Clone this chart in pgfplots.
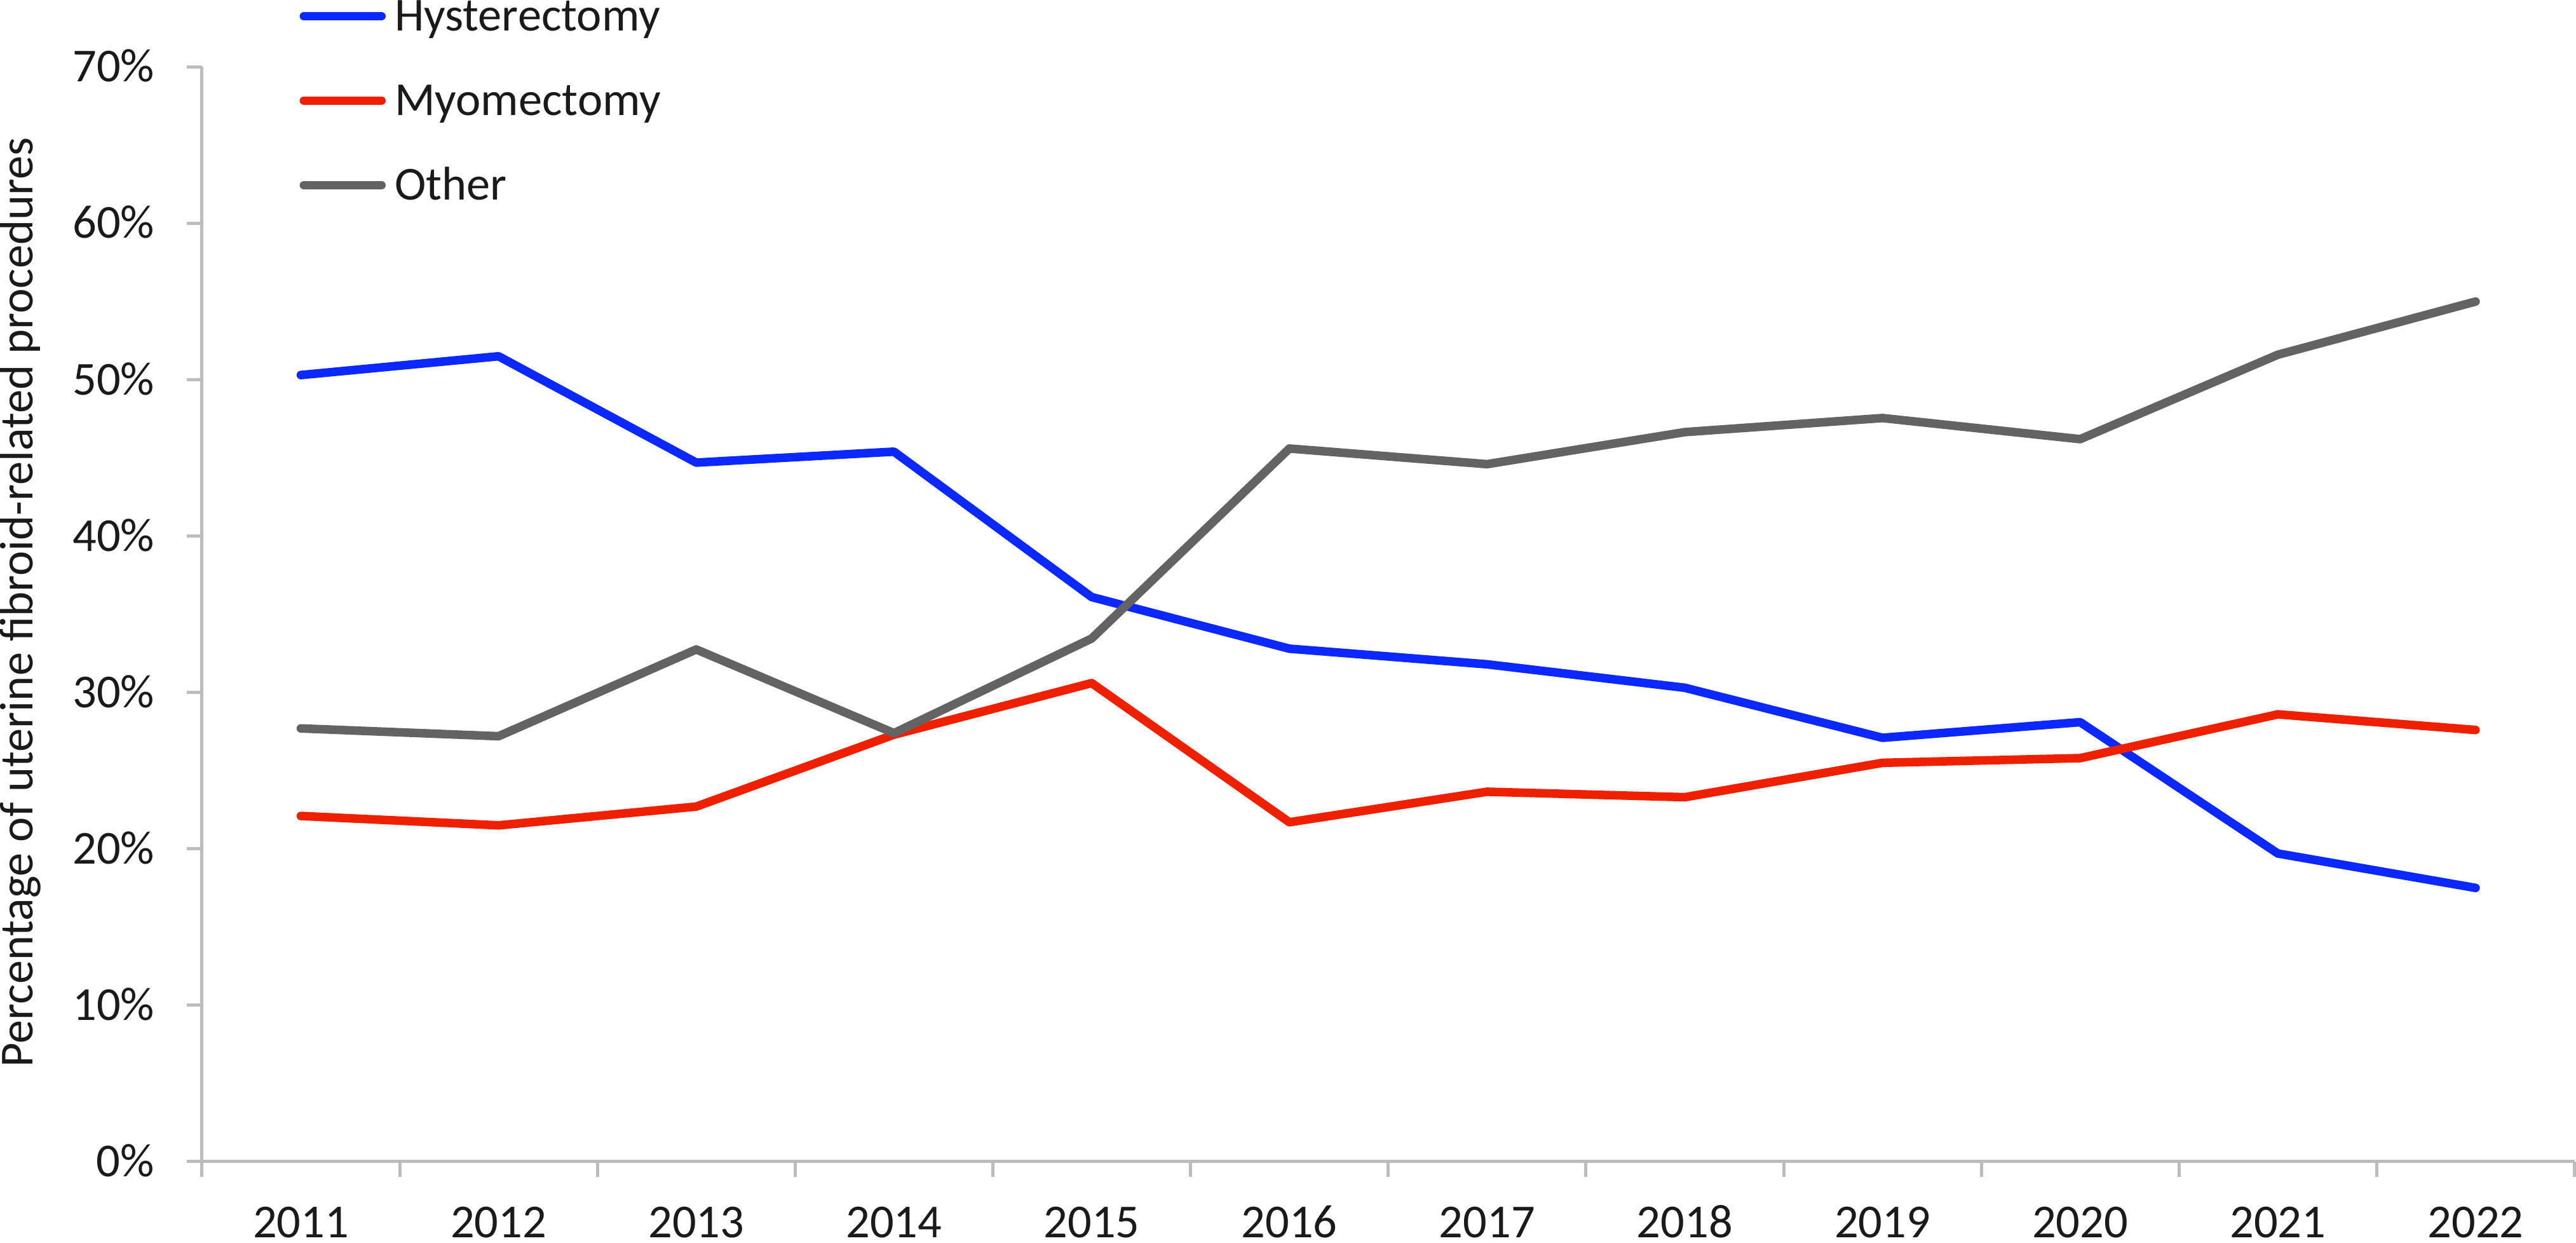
\documentclass[border=0pt]{standalone}
\usepackage{fontspec}
\setmainfont{Carlito}
\usepackage{pgfplots}
\pgfplotsset{compat=1.18}
\definecolor{hblue}{RGB}{10,40,255}
\definecolor{mred}{RGB}{238,32,0}
\definecolor{ogray}{RGB}{99,99,99}
\definecolor{axgray}{RGB}{188,188,188}
\definecolor{txt}{RGB}{26,26,26}
\begin{document}
\fontsize{7.45pt}{8.9pt}\selectfont
\begin{tikzpicture}
\begin{axis}[
  scale only axis, width=373.5pt, height=172.3pt,
  xmin=-0.5, xmax=11.5, ymin=0, ymax=70,
  axis lines*=left,
  axis line style={axgray, line width=0.5pt},
  xtick={0,...,11},
  xticklabels={2011,2012,2013,2014,2015,2016,2017,2018,2019,2020,2021,2022},
  minor xtick={-0.5,0.5,...,11.5},
  ytick={0,10,...,70},
  yticklabels={0\%,10\%,20\%,30\%,40\%,50\%,60\%,70\%},
  tick style={axgray, line width=0.5pt},
  major x tick style={draw=none},
  tick align=outside,
  major tick length=2.4pt, minor tick length=2.4pt,
  xticklabel style={anchor=north, inner sep=0pt, text height=4.7pt, text depth=0.8pt, yshift=-4.7pt, text=txt},
  yticklabel style={anchor=east, inner sep=0pt, text height=4.7pt, text depth=0pt, xshift=-4.9pt, text=txt},
  ylabel={Percentage of uterine fibroid-related procedures},
  ylabel style={at={(axis description cs:-0.0857,0.511)}, anchor=north, inner sep=0pt, text height=5.2pt, text depth=1.5pt, text=txt},
  legend cell align=left,
  legend style={draw=none, fill=none, inner sep=0pt, at={(axis description cs:0,1)}, anchor=north west, xshift=15.17pt, yshift=10.75pt, row sep=8.2pt, column sep=1.4pt, nodes={inner sep=0pt, text height=4.9pt, text depth=0.2pt, text=txt}},
  legend image code/.code={\draw[#1, line cap=round] (0pt,0pt) -- (12.2pt,0pt);},
  every axis plot/.append style={line width=1.35pt, line join=round, line cap=round, mark=none},
]
\addplot[hblue] coordinates {(0,50.3) (1,51.5) (2,44.7) (3,45.4) (4,36.1) (5,32.8) (6,31.8) (7,30.3) (8,27.1) (9,28.1) (10,19.7) (11,17.5)};
\addlegendentry{Hysterectomy}
\addplot[mred] coordinates {(0,22.1) (1,21.5) (2,22.7) (3,27.3) (4,30.6) (5,21.7) (6,23.65) (7,23.3) (8,25.5) (9,25.8) (10,28.6) (11,27.6)};
\addlegendentry{Myomectomy}
\addplot[ogray] coordinates {(0,27.7) (1,27.2) (2,32.75) (3,27.4) (4,33.45) (5,45.6) (6,44.6) (7,46.65) (8,47.55) (9,46.2) (10,51.6) (11,55.0)};
\addlegendentry{Other}
\end{axis}
\end{tikzpicture}
\end{document}
